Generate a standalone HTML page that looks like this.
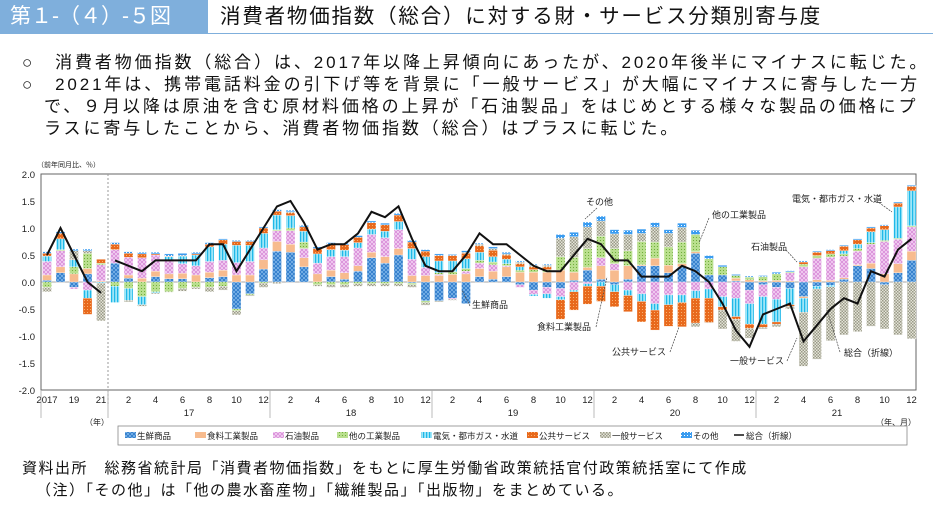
<!DOCTYPE html>
<html><head><meta charset="utf-8">
<style>
body{margin:0;width:933px;height:513px;background:#fff;overflow:hidden;font-family:"Liberation Sans","Noto Sans CJK JP",sans-serif;position:relative}
.hdr{position:absolute;left:0;top:0;width:933px;height:34px;background:#7fafdc}
.lab{position:absolute;left:10px;top:3px;color:#fff;font-size:21px;line-height:28px}
.ttl{position:absolute;left:208px;top:0;width:725px;height:33px;background:#fff;font-size:20.5px;letter-spacing:1.8px;line-height:33px;padding-left:12px;box-sizing:border-box;color:#111}
.p{position:absolute;font-size:17px;letter-spacing:2.9px;color:#111;white-space:nowrap;line-height:20px}
.f{position:absolute;font-size:15px;letter-spacing:1.5px;color:#111;white-space:nowrap}
svg{position:absolute;left:0;top:0}
</style></head><body>
<div class="hdr"></div>
<div class="lab">第１-（４）-５図</div>
<div class="ttl">消費者物価指数（総合）に対する財・サービス分類別寄与度</div>
<div class="p" style="left:22px;top:53px">○　消費者物価指数（総合）は、2017年以降上昇傾向にあったが、2020年後半にマイナスに転じた。</div>
<div class="p" style="left:22px;top:75px">○　2021年は、携帯電話料金の引下げ等を背景に「一般サービス」が大幅にマイナスに寄与した一方</div>
<div class="p" style="left:44px;top:97px">で、９月以降は原油を含む原材料価格の上昇が「石油製品」をはじめとする様々な製品の価格にプ</div>
<div class="p" style="left:44px;top:119px">ラスに寄与したことから、消費者物価指数（総合）はプラスに転じた。</div>
<div class="f" style="left:22px;top:457px">資料出所　総務省統計局「消費者物価指数」をもとに厚生労働省政策統括官付政策統括室にて作成</div>
<div class="f" style="left:36px;top:479px">（注）「その他」は「他の農水畜産物」「繊維製品」「出版物」をまとめている。</div>
<svg id="c" width="933" height="513" xmlns="http://www.w3.org/2000/svg">
<defs>
<pattern id="p0" width="4" height="4" patternUnits="userSpaceOnUse"><rect width="4" height="4" fill="#7fb6ea"/><path d="M0 0L4 4M4 0L0 4" stroke="#2a78c8" stroke-width="0.8"/></pattern>
<pattern id="p1" width="4" height="4" patternUnits="userSpaceOnUse"><rect width="4" height="4" fill="#f7bb8e"/></pattern>
<pattern id="p2" width="4" height="4" patternUnits="userSpaceOnUse"><rect width="4" height="4" fill="#f4d4f4"/><path d="M0 0L4 4M4 0L0 4" stroke="#d78ad7" stroke-width="0.8"/></pattern>
<pattern id="p3" width="3" height="3" patternUnits="userSpaceOnUse"><rect width="3" height="3" fill="#b9df8e"/><rect width="1" height="1" fill="#6fae3a"/></pattern>
<pattern id="p4" width="3" height="3" patternUnits="userSpaceOnUse"><rect width="3" height="3" fill="#9ee6f8"/><rect width="1.2" height="3" fill="#1fb8e8"/></pattern>
<pattern id="p5" width="3" height="3" patternUnits="userSpaceOnUse"><rect width="3" height="3" fill="#e8691c"/><rect width="1" height="1" fill="#f8b070"/></pattern>
<pattern id="p6" width="3" height="3" patternUnits="userSpaceOnUse"><rect width="3" height="3" fill="#e4e4d8"/><rect width="1.5" height="1.5" fill="#9a9a88"/><rect x="1.5" y="1.5" width="1.5" height="1.5" fill="#9a9a88"/></pattern>
<pattern id="p7" width="3" height="3" patternUnits="userSpaceOnUse"><rect width="3" height="3" fill="#3a9cf0"/><rect width="1" height="1" fill="#fff"/></pattern>
</defs>
</svg>
<script>
const S='http://www.w3.org/2000/svg',svg=document.getElementById('c');
function el(t,a,txt){const e=document.createElementNS(S,t);for(const k in a)e.setAttribute(k,a[k]);if(txt!==undefined)e.textContent=txt;svg.appendChild(e);return e;}
const Y0=282,K=54,L=41,R=916;
const y=v=>Y0-v*K;
el('rect',{x:L,y:174,width:R-L,height:216,fill:'none',stroke:'#666','stroke-width':1});
el('line',{x1:L,x2:R,y1:Y0,y2:Y0,stroke:'#888','stroke-width':0.8});
el('line',{x1:108,x2:108,y1:174,y2:405,stroke:'#999','stroke-dasharray':'2,2'});
[2,1.5,1,0.5,0,-0.5,-1,-1.5,-2].forEach(v=>{el('text',{x:35,y:y(v)+4,'font-size':9.5,'text-anchor':'end',fill:'#222'},v.toFixed(1));});
el('text',{x:37,y:167,'font-size':7,fill:'#222'},'（前年同月比、％）');
const D=[
[.03,.1,.25,-.1,.1,.05,-.08,.03],[.17,.11,.3,.02,.2,.1,0,.03],[-.1,.15,-.03,.13,.13,0,.17,.03],[.15,.1,-.15,.28,-.15,-.3,.05,.03],[0,.02,.3,.03,-.02,.07,-.7,0],
[.35,0,.25,-.08,-.3,.1,0,.03],[.07,.06,.33,-.12,-.22,.07,-.03,.03],[0,.07,.38,-.27,-.15,.07,-.03,.03],[.1,.1,.3,-.18,-.02,.02,-.02,.03],[.06,.09,.25,-.18,.07,.01,-.01,.04],[.06,.1,.18,-.12,.14,.01,-.05,.04],[0,.13,.17,-.1,.2,.02,-.03,.03],[.08,.1,.2,-.1,.27,.05,-.08,.03],[.1,.12,.18,-.08,.3,.08,-.07,.02],[-.5,.13,.23,-.03,.32,.07,-.08,.02],[-.22,.13,.25,-.02,.3,.07,-.02,.02],[.24,.17,.22,-.02,.27,.1,-.08,.02],
[.57,.18,.2,.02,.27,.07,-.03,.03],[.55,.15,.25,.05,.23,.05,.02,.03],[.28,.17,.17,.12,.2,.08,0,.03],[0,.15,.2,-.05,.17,.1,-.03,.03],[.1,.12,.25,-.05,.13,.1,-.05,.03],[.05,.12,.3,-.05,.12,.1,-.05,.03],[.2,.1,.33,-.03,.1,.1,-.05,.03],[.45,.1,.33,-.03,.1,.12,-.05,.03],[.35,.12,.35,-.03,.12,.12,-.05,.03],[.5,.12,.35,-.03,.15,.12,-.05,.03],[-.02,.12,.3,-.03,.2,.12,-.05,.03],[-.35,.12,.15,-.03,.2,.1,-.05,.03],
[-.35,.12,.02,.03,.22,.1,-.02,.03],[-.3,.14,-.02,.05,.2,.1,-.02,.02],[-.4,.15,.05,.05,.18,.1,.02,.03],[.1,.15,.1,.05,.15,.12,.03,.02],[.05,.15,.12,.05,.1,.12,.03,.03],[.1,.18,.02,.04,.08,.08,.02,.03],[-.05,.18,-.05,.04,.06,.06,.03,.02],[-.15,.18,-.08,.05,-.03,.05,.03,.02],[-.1,.18,-.12,.05,-.08,.05,.03,.02],[-.12,.22,-.15,.25,-.06,-.36,.34,.07],[.03,.15,-.15,.28,-.03,-.34,.38,.08],[.22,.05,-.03,.35,-.05,-.33,.4,.09],
[.05,.25,.15,.4,-.08,-.28,.28,.09],[-.05,.22,.12,.28,-.13,-.28,.27,.08],[.05,.25,-.15,.28,-.1,-.3,.3,.08],[.3,.02,-.22,.43,-.14,-.38,.15,.08],[.3,.14,-.4,.3,-.12,-.37,.28,.08],[.17,.14,-.24,.34,-.18,-.4,.25,.07],[.28,.06,-.24,.4,-.14,-.45,.27,.08],[.53,.03,-.16,.32,-.14,-.46,-.07,.08],[.13,0,-.13,.3,-.17,-.45,-.01,.06],[.13,0,-.27,.15,-.19,-.06,-.35,.03],[.02,.05,-.3,.05,-.34,-.05,-.41,.02],[-.15,.04,-.25,.05,-.38,-.08,-.18,.02],
[-.05,.02,-.22,.08,-.51,-.06,-.03,.02],[-.1,.03,-.22,.12,-.42,-.04,-.05,.03],[-.12,.02,.15,.02,-.3,-.03,-.05,.02],[-.27,-.03,.28,.05,-.26,.04,-1.0,.02],[-.08,.04,.4,.05,-.05,.06,-1.3,.02],[-.06,.03,.43,.06,-.03,.06,-1.0,.02],[.05,.03,.4,.04,.06,.08,-.98,.02],[.3,.02,.25,.05,.08,.08,-.92,.02],[.25,.1,.35,.03,.2,.07,-.82,.02],[-.05,.15,.6,.02,.2,.07,-.82,.02],[.17,.17,.45,.02,.58,.07,-.98,.02],[.4,.17,.45,.02,.65,.08,-1.05,.02]];
const T=[.5,1,.5,0,-.2,
.4,.3,.2,.4,.4,.4,.4,.7,.7,.2,.6,1.0,
1.4,1.5,1.1,.6,.7,.7,.9,1.3,1.2,1.4,.8,.3,
.2,.2,.5,.9,.7,.7,.5,.3,.2,.2,.5,.8,
.7,.4,.4,.1,.1,.1,.3,.2,0,-.4,-.9,-1.2,
-.6,-.5,-.4,-1.1,-.8,-.5,-.3,-.4,.2,.1,.6,.8];
const X=i=>i<5?47+13.5*i:115+13.5*(i-5);
D.forEach((d,i)=>{let p=0,n=0;const x=X(i)-4.5;
d.forEach((v,k)=>{if(v>0){el('rect',{x:x,y:y(p+v),width:9,height:v*K,fill:`url(#p${k})`,stroke:'#fff','stroke-width':0.3});p+=v;}
else if(v<0){el('rect',{x:x,y:y(n),width:9,height:-v*K,fill:`url(#p${k})`,stroke:'#fff','stroke-width':0.3});n+=v;}});});
el('polyline',{points:T.slice(0,5).map((v,i)=>X(i)+','+y(v)).join(' '),fill:'none',stroke:'#111','stroke-width':2});
el('polyline',{points:T.slice(5).map((v,i)=>X(i+5)+','+y(v)).join(' '),fill:'none',stroke:'#111','stroke-width':2});
[['2017',47],['19',74],['21',101]].forEach(a=>el('text',{x:a[1],y:403,'font-size':9.5,'text-anchor':'middle',fill:'#222'},a[0]));
for(let yr=0;yr<5;yr++)for(let m=2;m<=12;m+=2)el('text',{x:115+13.5*(yr*12+m-1),y:403,'font-size':9.5,'text-anchor':'middle',fill:'#222'},m);
['17','18','19','20','21'].forEach((s,j)=>el('text',{x:189+162*j,y:416,'font-size':9.5,'text-anchor':'middle',fill:'#222'},s));
[41,108,270,432,594,756].forEach(x=>el('line',{x1:x,x2:x,y1:390,y2:418,stroke:'#aaa','stroke-width':0.8}));
el('text',{x:97,y:425,'font-size':8,'text-anchor':'middle',fill:'#222'},'（年）');
el('text',{x:896,y:425,'font-size':8,'text-anchor':'middle',fill:'#222'},'（年、月）');
el('rect',{x:118,y:426,width:789,height:19,fill:'#fff',stroke:'#888','stroke-width':0.8});
const LG=['生鮮商品','食料工業製品','石油製品','他の工業製品','電気・都市ガス・水道','公共サービス','一般サービス','その他'];
const LX=[125,195,273,337,421,527,600,681];
LG.forEach((s,k)=>{el('rect',{x:LX[k],y:432,width:11,height:6,fill:`url(#p${k})`});el('text',{x:LX[k]+12,y:439,'font-size':8.5,fill:'#222'},s);});
el('line',{x1:734,x2:744,y1:435,y2:435,stroke:'#111','stroke-width':1.5});
el('text',{x:746,y:439,'font-size':8.5,fill:'#222'},'総合（折線）');
const A=[['その他',586,205,597,208,585,219],['他の工業製品',712,218,709,218,699,243],['電気・都市ガス・水道',792,202,874,199,892,212],['石油製品',751,250,786,250,797,262],['生鮮商品',472,308,470,306,462,290],['食料工業製品',537,330,596,327,607,277],['公共サービス',612,355,670,352,679,327],['一般サービス',730,364,787,361,797,338],['総合（折線）',844,356,840,352,827,310]];
A.forEach(a=>{el('text',{x:a[1],y:a[2],'font-size':9,fill:'#222'},a[0]);el('line',{x1:a[3],y1:a[4],x2:a[5],y2:a[6],stroke:'#444','stroke-width':0.7,'stroke-dasharray':'2,1'});});
</script>
</body></html>
